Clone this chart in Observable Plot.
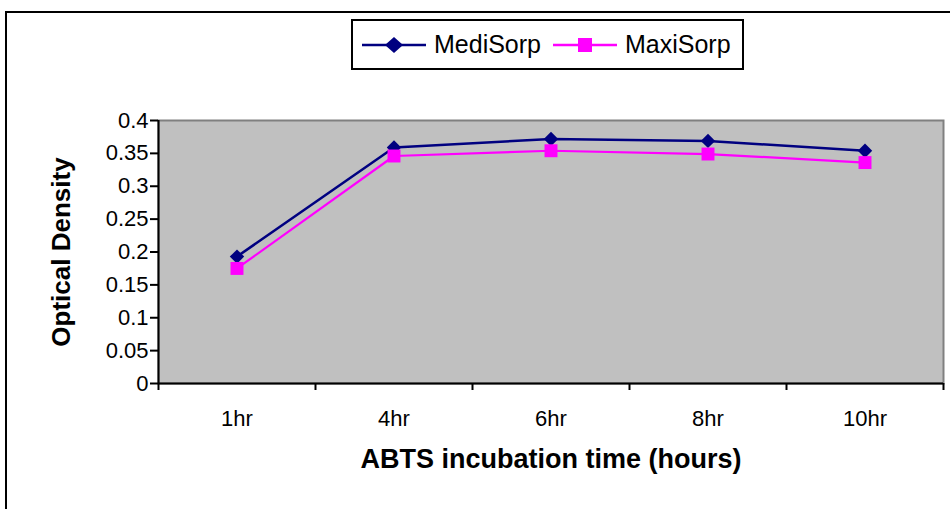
<!DOCTYPE html>
<html>
<head>
<meta charset="utf-8">
<script src="https://cdn.jsdelivr.net/npm/d3@7"></script>
<script src="https://cdn.jsdelivr.net/npm/@observablehq/plot@0.6"></script>
<style>
  html, body { margin: 0; padding: 0; background: #fff; overflow: hidden; }
  #wrap { position: relative; width: 950px; height: 509px; font-family: "Liberation Sans", Arial, sans-serif; }
  #outer { position: absolute; left: 5px; top: 11px; width: 960px; height: 520px; border: 2.5px solid #000; box-sizing: border-box; }
  #chart { position: absolute; left: 0; top: 0; }
  #legend { position: absolute; left: 351px; top: 19px; width: 393px; height: 51px; border: 2px solid #000; box-sizing: border-box; background: #fff; }
  #legend .item { position: absolute; top: 0; height: 47px; display: flex; align-items: center; font-size: 25px; color: #000; }
  #legend svg { margin-right: 8px; }
</style>
</head>
<body>
<div id="wrap">
  <div id="outer"></div>
  <div id="chart"></div>
  <div id="legend"></div>
</div>
<script>
const categories = ["1hr", "4hr", "6hr", "8hr", "10hr"];
const mediSorp = [0.193, 0.359, 0.372, 0.369, 0.354];
const maxiSorp = [0.175, 0.346, 0.354, 0.349, 0.336];
const yTicks = [0, 0.05, 0.1, 0.15, 0.2, 0.25, 0.3, 0.35, 0.4];
const yTickLabels = ["0", "0.05", "0.1", "0.15", "0.2", "0.25", "0.3", "0.35", "0.4"];
const seriesNames = ["MediSorp", "MaxiSorp"];
const seriesColors = ["#000080", "#FF00FF"];

const rows = [];
categories.forEach((c, i) => {
  rows.push({series: seriesNames[0], pos: i + 0.5, cat: c, value: mediSorp[i]});
  rows.push({series: seriesNames[1], pos: i + 0.5, cat: c, value: maxiSorp[i]});
});
const medi = rows.filter(d => d.series === seriesNames[0]);
const maxi = rows.filter(d => d.series === seriesNames[1]);
const boundaries = d3.range(categories.length + 1);
const centers = categories.map((c, i) => i + 0.5);

const chart = Plot.plot({
  width: 950,
  height: 509,
  marginLeft: 158,
  marginRight: 7,
  marginTop: 120,
  marginBottom: 126,
  style: {fontFamily: "'Liberation Sans', Arial, sans-serif", fontSize: "22px", background: "transparent", color: "#000"},
  x: {domain: [0, categories.length]},
  y: {domain: [0, 0.4]},
  marks: [
    Plot.frame({fill: "#C0C0C0", stroke: "#808080", strokeWidth: 2}),
    Plot.ruleX([0], {stroke: "#000", strokeWidth: 2}),
    Plot.ruleY([0], {stroke: "#000", strokeWidth: 2}),
    Plot.axisY({ticks: yTicks, tickSize: 8, tickPadding: 2, strokeWidth: 2, fontSize: 22,
      tickFormat: d => yTickLabels[yTicks.indexOf(d)], label: null}),
    Plot.axisX({ticks: boundaries, tickSize: 7, strokeWidth: 2, tickFormat: () => "", label: null}),
    Plot.axisX({ticks: centers, tickSize: 0, tickPadding: 27, fontSize: 22,
      tickFormat: d => categories[Math.round(d - 0.5)], label: null}),
    Plot.line(medi, {x: "pos", y: "value", stroke: seriesColors[0], strokeWidth: 2.5}),
    Plot.line(maxi, {x: "pos", y: "value", stroke: seriesColors[1], strokeWidth: 2.2}),
    Plot.dot(medi, {x: "pos", y: "value", symbol: "diamond2", r: 6.5, fill: seriesColors[0], stroke: null}),
    Plot.dot(maxi, {x: "pos", y: "value", symbol: "square", r: 7.3, fill: seriesColors[1], stroke: null}),
    Plot.text(["Optical Density"], {frameAnchor: "left", textAnchor: "middle", dx: -97, rotate: -90, fontWeight: "bold", fontSize: 26, fill: "#000"}),
    Plot.text(["ABTS incubation time (hours)"], {frameAnchor: "bottom", dy: 84, fontWeight: "bold", fontSize: 27, fill: "#000"})
  ]
});
document.getElementById("chart").appendChild(chart);

// legend
const legend = document.getElementById("legend");
const legendPos = [9, 200];
seriesNames.forEach((name, i) => {
  const item = document.createElement("div");
  item.className = "item";
  item.style.left = legendPos[i] + "px";
  const sym = i === 0
    ? `<polygon points="32,7 41,15 32,23 23,15" fill="${seriesColors[0]}"/>`
    : `<rect x="25" y="8" width="14" height="14" fill="${seriesColors[1]}"/>`;
  item.innerHTML = `<svg width="64" height="30"><line x1="0" x2="64" y1="15" y2="15" stroke="${seriesColors[i]}" stroke-width="2.5"/>${sym}</svg><span>${name}</span>`;
  legend.appendChild(item);
});
</script>
</body>
</html>
